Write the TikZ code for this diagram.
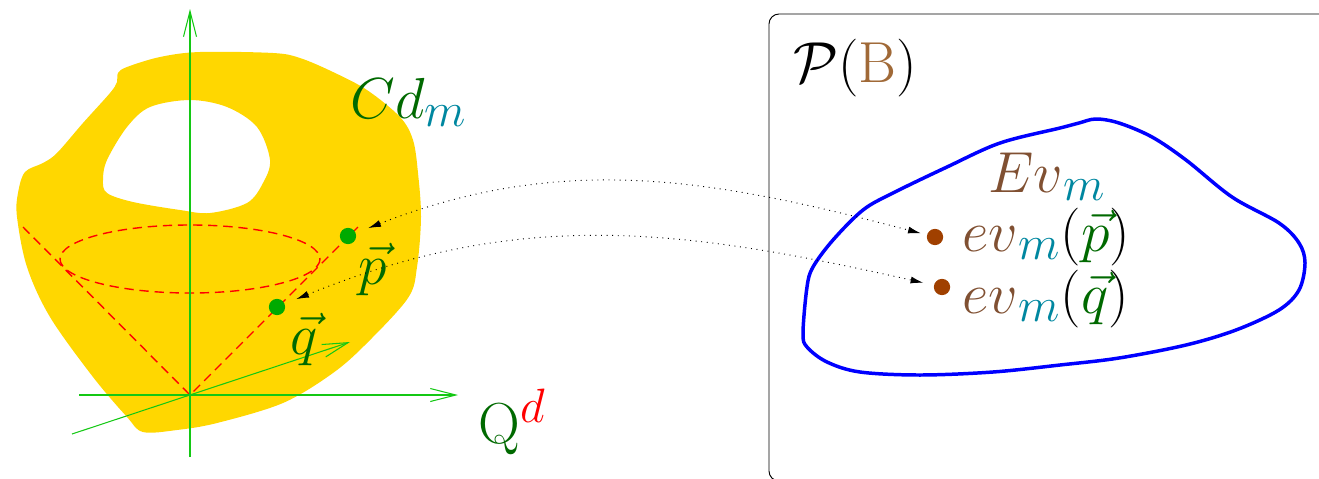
\documentclass[tikz,border=0pt]{standalone}
\usepackage{amsmath,amssymb}
\usepackage{tikz}
\usetikzlibrary{arrows.meta,calc,positioning}
\definecolor{cdyellow}{RGB}{255,215,0}
\definecolor{axgreen}{RGB}{20,200,20}
\definecolor{ptgreen}{RGB}{0,170,0}
\definecolor{lgreen}{RGB}{0,105,0}
\definecolor{mteal}{RGB}{0,135,160}
\definecolor{evtext}{RGB}{128,80,50}
\definecolor{bbrown}{RGB}{160,105,55}
\definecolor{evbrown}{RGB}{160,64,0}
\tikzset{
    myaxis/.style={draw=axgreen,line width=0.45pt,-{Straight Barb[length=11pt,width=5.6pt]}},
    mycone/.style={draw=red,line width=0.6pt,dash pattern=on 4pt off 2.5pt},
    ptdot/.style={circle,fill=ptgreen,inner sep=0pt,minimum size=7pt},
    evdot/.style={circle,fill=evbrown,inner sep=0pt,minimum size=7pt},
    evarrow/.style={dotted,line width=0.4pt,{Latex[length=5.5pt,width=3pt]}-{Latex[length=5.5pt,width=3pt]}},
    mylabel/.style={inner sep=0pt,anchor=base west},
    every node/.style={font=\Huge}
}
\begin{document}
\begin{tikzpicture}[x=0.43pt,y=-0.43pt]
  \useasboundingbox (0,0) rectangle (1319,478);
  % the set Cd_m with its hole
  \fill[cdyellow,even odd rule]
    plot[smooth cycle,tension=0.55] coordinates {(25,172) (43,163) (57,153) (83,123) (110,93) (117,82)
      (118,73) (127,67) (160,57) (200,52) (273,53) (300,58) (333,72) (367,90) (400,117) (413,140)
      (418,173) (421,217) (417,267) (408,298) (367,343) (333,373) (283,403) (217,423) (177,430)
      (143,432) (127,417) (93,377) (50,317) (27,267) (17,217) (18,193)}
    plot[smooth cycle,tension=0.55] coordinates {(107,193) (103,180) (107,160) (127,127) (150,107)
      (190,100) (227,107) (257,127) (270,160) (263,183) (247,203) (210,213) (180,210) (133,202)};
  % cone
  \coordinate (O) at (190,395);
  \draw[mycone] (190,259) ellipse [x radius=130,y radius=34];
  \draw[mycone] (23,227) -- (O) -- (358,227);
  % axes
  \draw[myaxis] (190,457) -- (190,9);
  \draw[myaxis] (79,395) -- (458,395);
  \draw[myaxis] (72,434) -- (350,342);
  \node[mylabel] (cdm) at (350,118) {$\textcolor{lgreen}{Cd}_{\textcolor{mteal}{m}}$};
  \node[mylabel] (qd) at (478,443) {$\textcolor{lgreen}{\mathrm{Q}}^{\textcolor{red}{d}}$};
  \node[ptdot] (p) at (348,236) {};
  \node[ptdot] (q) at (277,307) {};
  \node[text=lgreen,inner sep=0pt] (plab) at (373,269) {$\vec{p}$};
  \node[text=lgreen,inner sep=0pt] (qlab) at (304,339) {$\vec{q}$};
  % the space P(B)
  \draw[line width=0.4pt,rounded corners=4.3pt] (769,14) rectangle (1340,481);
  \node[mylabel] (pb) at (793,82) {$\mathcal{P}(\textcolor{bbrown}{\mathrm{B}})$};
  \draw[blue,line width=1.5pt]
    plot[smooth cycle,tension=0.55] coordinates {(1096,119) (1119,123) (1152,137) (1186,160) (1232,197)
      (1279,223) (1299,243) (1305,263) (1299,290) (1279,310) (1236,330) (1186,345) (1119,358)
      (1060,365) (993,372) (920,375) (860,372) (827,362) (807,347) (803,333) (807,287) (813,267)
      (833,240) (863,210) (893,193) (947,167) (1000,143) (1060,128) (1079,123)};
  \node[mylabel] (evm) at (988,192) {$\textcolor{evtext}{Ev}_{\textcolor{mteal}{m}}$};
  \node[evdot] (evp) at (935,237) {};
  \node[evdot] (evq) at (942,287) {};
  \node[mylabel] (evplab) at (962,251) {$\textcolor{evtext}{ev}_{\textcolor{mteal}{m}}(\textcolor{lgreen}{\vec{p}})$};
  \node[mylabel] (evqlab) at (962,313) {$\textcolor{evtext}{ev}_{\textcolor{mteal}{m}}(\textcolor{lgreen}{\vec{q}})$};
  % evaluation arrows
  \draw[evarrow,shorten <=5.6pt,shorten >=2.6pt] (p) .. controls +(218,-85) and +(-218,-57) .. (evp);
  \draw[evarrow,shorten <=5.2pt,shorten >=4.5pt] (q) .. controls +(245,-100) and +(-258,-58) .. (evq);
\end{tikzpicture}
\end{document}
